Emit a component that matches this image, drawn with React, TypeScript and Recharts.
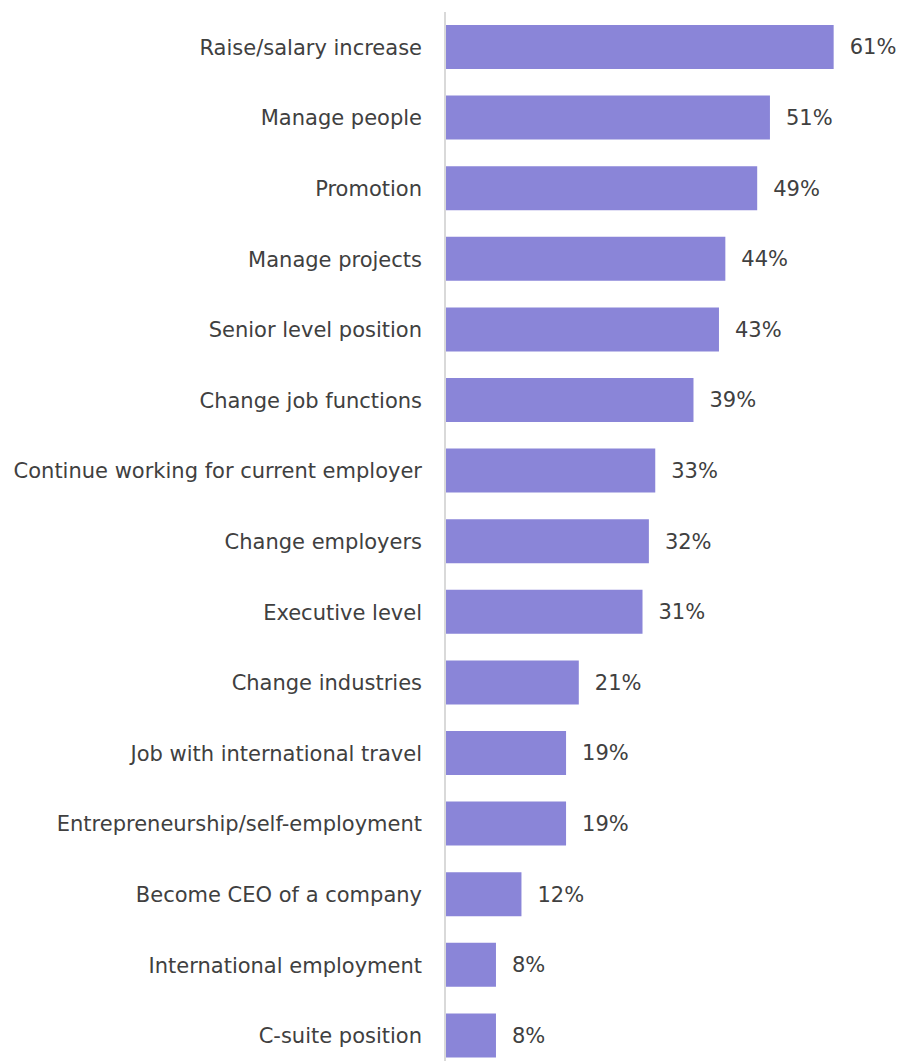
import { Bar, BarChart, LabelList, XAxis, YAxis } from "recharts";

const categories = [
  "Raise/salary increase",
  "Manage people",
  "Promotion",
  "Manage projects",
  "Senior level position",
  "Change job functions",
  "Continue working for current employer",
  "Change employers",
  "Executive level",
  "Change industries",
  "Job with international travel",
  "Entrepreneurship/self-employment",
  "Become CEO of a company",
  "International employment",
  "C-suite position",
];

const shares = [61, 51, 49, 44, 43, 39, 33, 32, 31, 21, 19, 19, 12, 8, 8];

const data = categories.map((name, i) => ({ name, value: shares[i] }));

const FONT = "'DejaVu Sans', Tahoma, sans-serif";
const TEXT = "#404040";

export default function App() {
  return (
    <div style={{ position: "absolute", top: 0, left: 0, width: 902, height: 1061, overflow: "hidden", background: "#fff" }}>
      <BarChart
        width={902}
        height={1075}
        data={data}
        layout="vertical"
        margin={{ top: 12, right: 11, bottom: 4, left: 0 }}
        barSize={44}
      >
        <XAxis type="number" domain={[0, 70]} hide />
        <YAxis
          type="category"
          dataKey="name"
          width={445}
          tickLine={false}
          tickSize={0}
          tickMargin={23}
          axisLine={{ stroke: "#d9d9d9", strokeWidth: 2 }}
          tick={{ fill: TEXT, fontSize: 21, fontFamily: FONT }}
          interval={0}
        />
        <Bar dataKey="value" fill="#8a85d8" isAnimationActive={false}>
          <LabelList
            dataKey="value"
            position="right"
            offset={16}
            formatter={(v: number) => `${v}%`}
            style={{ fill: TEXT, fontSize: 21, fontFamily: FONT }}
          />
        </Bar>
      </BarChart>
    </div>
  );
}
